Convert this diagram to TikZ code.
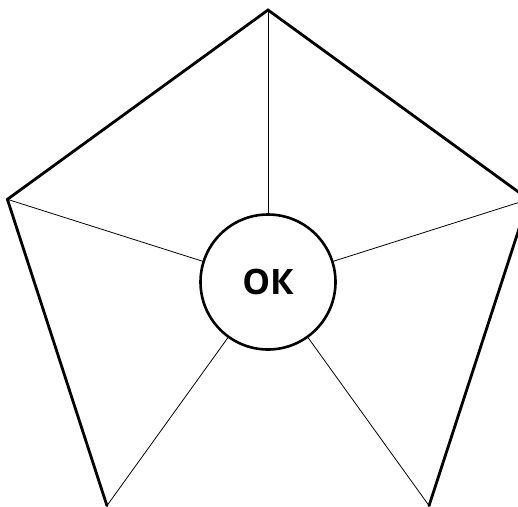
\documentclass[tikz,border=0pt]{standalone}
\usepackage{fontspec}
\newfontfamily\labelfont{Open Sans}
\usetikzlibrary{calc}

\begin{document}
\begin{tikzpicture}[
    x=1pt, y=-1pt,
    hub/.style={circle, draw, line width=2.6pt, minimum size=135pt, inner sep=0pt, fill=white, font=\labelfont\bfseries\fontsize{35}{35}\selectfont},
    edge/.style={line width=2.8pt, line cap=round, line join=miter},
    spoke/.style={line width=0.8pt}
]
\useasboundingbox (0,0) rectangle (518,506);
\clip (0,0) rectangle (518,506);
% pentagon corners
\foreach \i/\a in {top/90, right/18, br/-54, bl/-126, left/162}
  \coordinate (\i) at ($(268,284)+(\a:274pt)$);
\node[hub] (ok) at (268,282) {ОК};
\foreach \i in {top, right, br, bl, left}
  \draw[spoke] (\i) -- (ok);
\draw[edge] (bl) -- (left) -- (top) -- (right) -- (br);
\end{tikzpicture}
\end{document}
